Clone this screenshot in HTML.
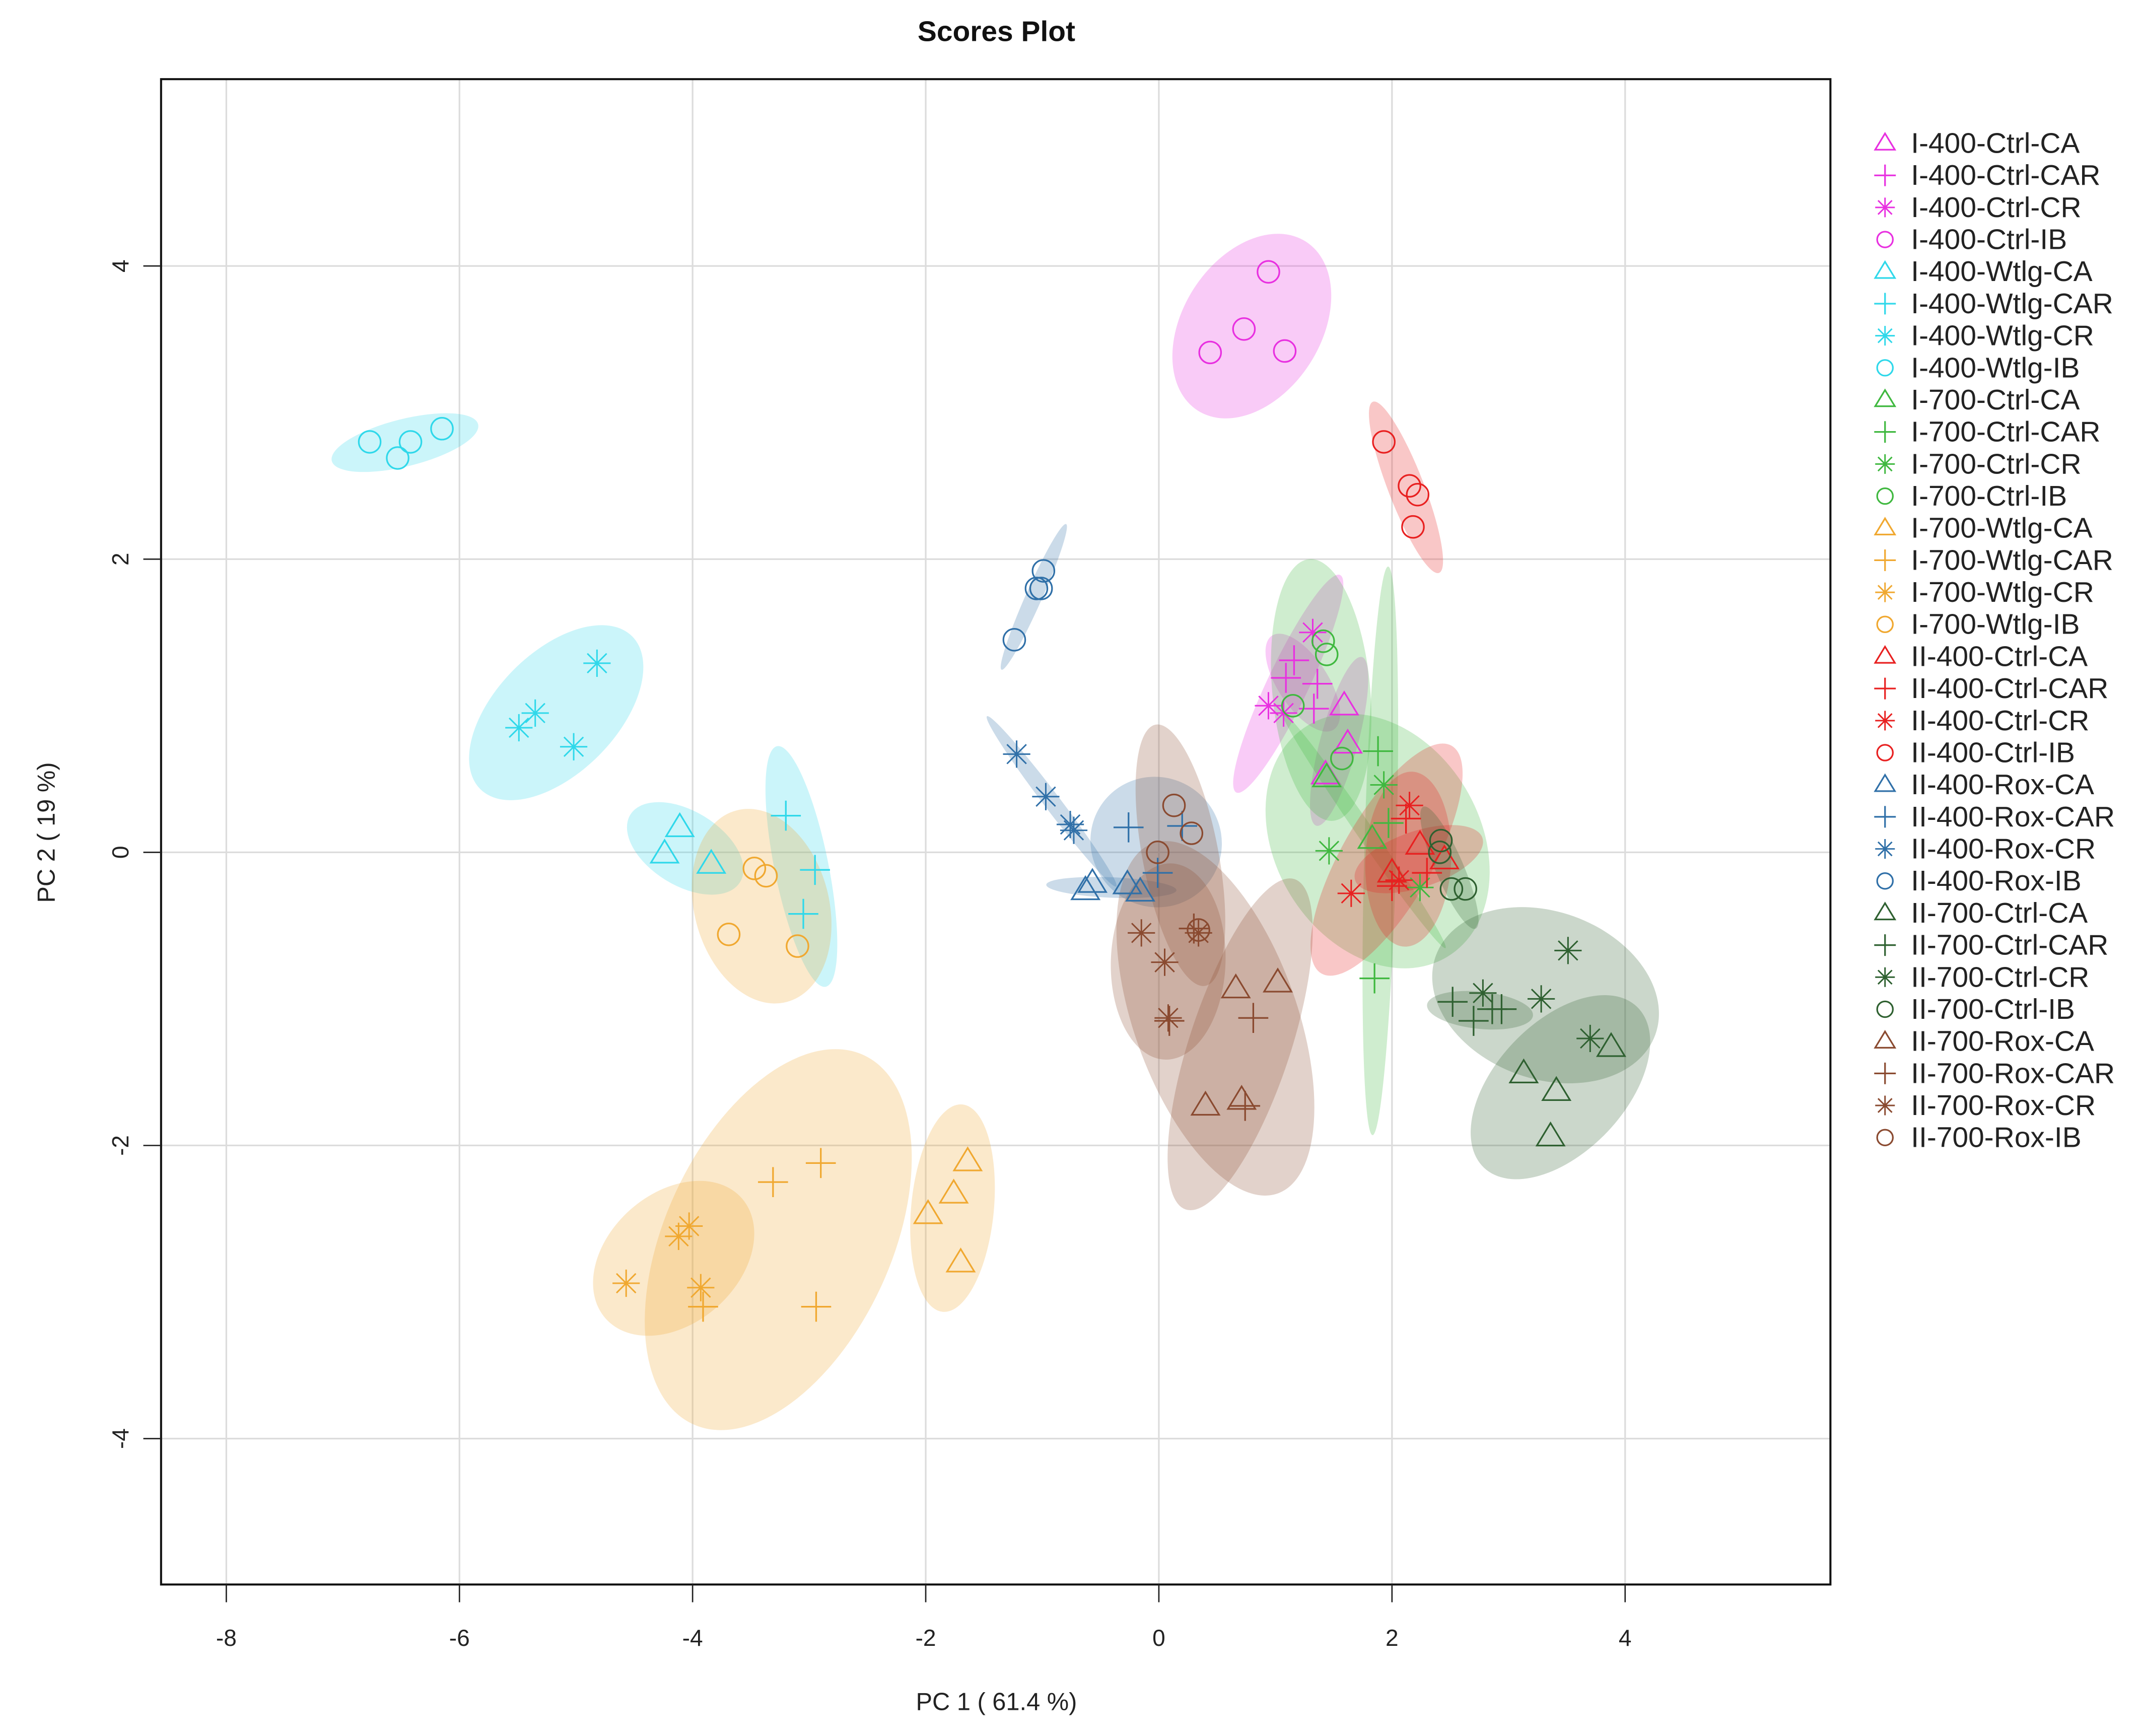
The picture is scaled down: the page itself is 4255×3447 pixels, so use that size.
<!DOCTYPE html>
<html><head><meta charset="utf-8"><style>
html,body{margin:0;padding:0;background:#fff;}
svg{display:block;font-family:"Liberation Sans",Arial,sans-serif;}
</style></head><body>
<svg id="chart" width="4255" height="3447" viewBox="0 0 1570 1272" preserveAspectRatio="none" xmlns="http://www.w3.org/2000/svg">
<defs><clipPath id="plotclip"><rect x="118" y="58" width="1223" height="1103"/></clipPath>
<clipPath id="legclip"><rect x="1350" y="0" width="202" height="1272"/></clipPath></defs>
<rect x="0" y="0" width="1570" height="1272" fill="#fff"/>
<text x="730" y="30" text-anchor="middle" font-size="21" font-weight="bold" fill="#111">Scores Plot</text>
<text x="730" y="1253" text-anchor="middle" font-size="18" fill="#222">PC 1 ( 61.4 %)</text>
<text x="0" y="0" transform="translate(40,610) rotate(-90)" text-anchor="middle" font-size="18" fill="#222">PC 2 ( 19 %)</text>
<g id="grid"></g>
<g id="ellipses" clip-path="url(#plotclip)"></g>
<g id="points" clip-path="url(#plotclip)"></g>
<rect x="118" y="58" width="1223" height="1103" fill="none" stroke="#111" stroke-width="1.5"/>
<g id="axes"></g>
<g id="legend" clip-path="url(#legclip)"></g>
</svg>
<script>
const xTicks = [-8,-6,-4,-2,0,2,4];
const yTicks = [-4,-2,0,2,4];
const groupNames = ["I-400-Ctrl-CA","I-400-Ctrl-CAR","I-400-Ctrl-CR","I-400-Ctrl-IB","I-400-Wtlg-CA","I-400-Wtlg-CAR","I-400-Wtlg-CR","I-400-Wtlg-IB","I-700-Ctrl-CA","I-700-Ctrl-CAR","I-700-Ctrl-CR","I-700-Ctrl-IB","I-700-Wtlg-CA","I-700-Wtlg-CAR","I-700-Wtlg-CR","I-700-Wtlg-IB","II-400-Ctrl-CA","II-400-Ctrl-CAR","II-400-Ctrl-CR","II-400-Ctrl-IB","II-400-Rox-CA","II-400-Rox-CAR","II-400-Rox-CR","II-400-Rox-IB","II-700-Ctrl-CA","II-700-Ctrl-CAR","II-700-Ctrl-CR","II-700-Ctrl-IB","II-700-Rox-CA","II-700-Rox-CAR","II-700-Rox-CR","II-700-Rox-IB"];
const groupColors = ["#e830e0","#e830e0","#e830e0","#e830e0","#2fd8ea","#2fd8ea","#2fd8ea","#2fd8ea","#3fb83f","#3fb83f","#3fb83f","#3fb83f","#f0a830","#f0a830","#f0a830","#f0a830","#e82020","#e82020","#e82020","#e82020","#3070a8","#3070a8","#3070a8","#3070a8","#2e6030","#2e6030","#2e6030","#2e6030","#8a4a30","#8a4a30","#8a4a30","#8a4a30"];
const groupShapes = ["tri","plus","star","circ","tri","plus","star","circ","tri","plus","star","circ","tri","plus","star","circ","tri","plus","star","circ","tri","plus","star","circ","tri","plus","star","circ","tri","plus","star","circ"];
const scoresX = [
[1.59,1.62,1.43],[1.16,1.36,1.09,1.33],[1.32,0.94,1.07],[0.94,0.73,0.44,1.08],
[-4.24,-4.11,-3.84],[-3.2,-2.95,-3.05],[-5.49,-5.35,-5.02,-4.82],[-6.77,-6.42,-6.53,-6.15],
[1.44,1.83,2.0],[1.85,1.97,1.88],[1.93,1.46,2.24],[1.41,1.44,1.57,1.15],
[-1.98,-1.76,-1.64,-1.70],[-3.91,-3.31,-2.9,-2.94],[-4.57,-4.12,-4.03,-3.93],[-3.47,-3.37,-3.69,-3.1],
[2.24,2.0,2.45],[2.12,2.3,2.0],[2.15,2.06,1.65],[1.93,2.15,2.22,2.18],
[-0.57,-0.27,-0.16,-0.63],[-0.26,-0.01,0.2],[-1.22,-0.97,-0.76,-0.73],[-1.24,-1.05,-0.99,-1.01],
[3.13,3.41,3.36,3.88],[2.52,2.7,2.86,2.94],[2.78,3.28,3.51,3.70],[2.42,2.51,2.63,2.41],
[0.4,0.71,0.66,1.02],[0.09,0.81,0.74,0.3],[-0.15,0.05,0.08,0.34],[0.13,-0.01,0.28,0.34]];
const scoresY = [
[1.0,0.74,0.53],[1.31,1.15,1.19,0.98],[1.50,1.0,0.95],[3.96,3.57,3.41,3.42],
[-0.01,0.17,-0.08],[0.25,-0.12,-0.42],[0.85,0.95,0.72,1.29],[2.8,2.8,2.69,2.89],
[0.51,0.09,-0.14],[-0.86,0.2,0.69],[0.46,0.01,-0.24],[1.44,1.35,0.64,1.0],
[-2.47,-2.33,-2.11,-2.8],[-3.1,-2.25,-2.12,-3.1],[-2.94,-2.62,-2.55,-2.97],[-0.11,-0.16,-0.56,-0.64],
[0.05,-0.14,-0.05],[0.23,-0.14,-0.23],[0.32,-0.19,-0.28],[2.8,2.5,2.44,2.22],
[-0.21,-0.22,-0.27,-0.26],[0.17,-0.14,0.18],[0.67,0.38,0.19,0.15],[1.45,1.8,1.92,1.8],
[-1.51,-1.63,-1.94,-1.33],[-1.02,-1.15,-1.07,-1.07],[-0.96,-1.0,-0.67,-1.27],[0.08,-0.25,-0.25,0.0],
[-1.73,-1.69,-0.93,-0.89],[-1.15,-1.13,-1.73,-0.52],[-0.55,-0.75,-1.13,-0.55],[0.32,0.0,0.13,-0.53]];

const NS="http://www.w3.org/2000/svg";
const X0=849, XU=85.4, Y0=624.5, YU=107.4;
function sx(v){return X0+v*XU;}
function sy(v){return Y0-v*YU;}
function mk(tag,attrs,parent){const e=document.createElementNS(NS,tag);for(const k in attrs)e.setAttribute(k,attrs[k]);parent.appendChild(e);return e;}

const grid=document.getElementById('grid'), axes=document.getElementById('axes');
xTicks.forEach(t=>{
  const g=mk('line',{x1:sx(t),x2:sx(t),y1:58,y2:1161,stroke:'#dcdcdc','stroke-width':1.2},grid);
  
  
  const tk=mk('line',{x1:sx(t),x2:sx(t),y1:1161,y2:1174,stroke:'#222','stroke-width':1},axes);
  
  
  const lb=mk('text',{x:sx(t),y:1206,'text-anchor':'middle','font-size':17,fill:'#222'},axes);
  lb.textContent=String(t);
  
  
});
yTicks.forEach(t=>{
  const g=mk('line',{x1:118,x2:1341,y1:sy(t),y2:sy(t),stroke:'#dcdcdc','stroke-width':1.2},grid);
  
  
  const tk=mk('line',{x1:105,x2:118,y1:sy(t),y2:sy(t),stroke:'#222','stroke-width':1},axes);
  
  
  const lb=mk('text',{x:0,y:0,transform:`translate(94,${sy(t)}) rotate(-90)`,'text-anchor':'middle','font-size':17,fill:'#222'},axes);
  lb.textContent=String(t);
  
  
});

function drawMarker(shape,cx,cy,col,parent,s){
  s=s||1;let e;
  if(shape==='tri'){const r=10*s;e=mk('polygon',{points:`${cx},${cy-r} ${cx-r*1.0},${cy+r*0.65} ${cx+r*1.0},${cy+r*0.65}`,fill:'none',stroke:col,'stroke-width':1.2},parent);}
  else if(shape==='circ'){e=mk('circle',{cx:cx,cy:cy,r:8*s,fill:'none',stroke:col,'stroke-width':1.2},parent);}
  else if(shape==='plus'){const r=11*s;e=mk('path',{d:`M${cx-r},${cy}H${cx+r}M${cx},${cy-r}V${cy+r}`,stroke:col,'stroke-width':1.2,fill:'none'},parent);}
  else {const r=10*s,d=r*0.7071;e=mk('path',{d:`M${cx-r},${cy}H${cx+r}M${cx},${cy-r}V${cy+r}M${cx-d},${cy-d}L${cx+d},${cy+d}M${cx-d},${cy+d}L${cx+d},${cy-d}`,stroke:col,'stroke-width':1.1,fill:'none'},parent);}
  return e;
}

const ellG=document.getElementById('ellipses'), ptG=document.getElementById('points');
const K=Math.sqrt(5.991);
groupNames.forEach((name,i)=>{
  const xs=scoresX[i], ys=scoresY[i], n=xs.length;
  const mx=xs.reduce((a,b)=>a+b,0)/n, my=ys.reduce((a,b)=>a+b,0)/n;
  let sxx=0,syy=0,sxy=0;
  for(let j=0;j<n;j++){const dx=(xs[j]-mx)*XU, dy=(ys[j]-my)*YU; sxx+=dx*dx; syy+=dy*dy; sxy+=dx*dy;}
  sxx/=(n-1); syy/=(n-1); sxy/=(n-1);
  const tr=(sxx+syy)/2, det=Math.sqrt(Math.max(0,((sxx-syy)/2)**2+sxy*sxy));
  const l1=tr+det, l2=Math.max(tr-det,6);
  const ang=Math.atan2(l1-sxx, sxy)*180/Math.PI;
  const angle = Math.abs(sxy)<1e-9 ? (sxx>=syy?0:90) : ang;
  const el=mk('ellipse',{cx:sx(mx),cy:sy(my),rx:K*Math.sqrt(l1),ry:K*Math.sqrt(l2),transform:`rotate(${-angle} ${sx(mx)} ${sy(my)})`,fill:groupColors[i],'fill-opacity':0.25,stroke:'none'},ellG);
  
  
});
groupNames.forEach((name,i)=>{
  const xs=scoresX[i], ys=scoresY[i];
  for(let j=0;j<xs.length;j++){
    const m=drawMarker(groupShapes[i],sx(xs[j]),sy(ys[j]),groupColors[i],ptG);
    
    
  }
});

const leg=document.getElementById('legend');
groupNames.forEach((name,i)=>{
  const y=105+i*23.5;
  const m=drawMarker(groupShapes[i],1381,y,groupColors[i],leg,0.72);
  
  
  const t=mk('text',{x:1400,y:y+7,'font-size':21,fill:'#222'},leg);
  t.textContent=name;
  
  
});
</script>
</body></html>
